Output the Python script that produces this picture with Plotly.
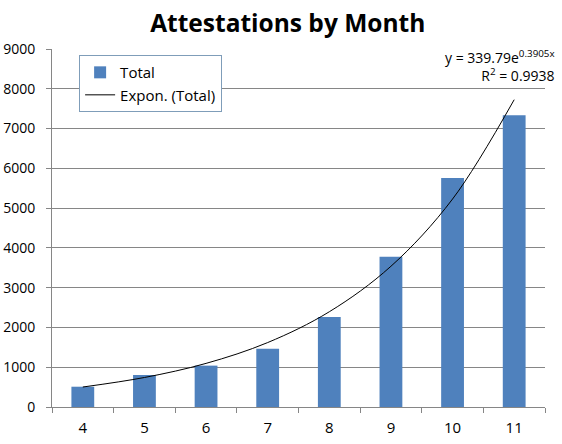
import plotly.graph_objects as go

# Monthly attestation counts
MONTHS = ['4', '5', '6', '7', '8', '9', '10', '11']
TOTALS = [510, 805, 1040, 1465, 2260, 3775, 5755, 7335]

# Exponential trendline as reported on the chart: y = a * e^(b * n), n = 1..N
TREND_A = 339.79
TREND_B = 0.3905
TREND_R2 = 0.9938

BAR_COLOR = '#4F81BD'
AXIS_COLOR = '#868686'
FONT = 'Open Sans'

trend_x = list(range(1, len(MONTHS) + 1))
trend_y = [TREND_A * 2.718281828459045 ** (TREND_B * n) for n in trend_x]

fig = go.Figure()
fig.add_trace(go.Bar(
    x=MONTHS,
    y=TOTALS,
    name='Total',
    marker=dict(color=BAR_COLOR, line=dict(width=0)),
    width=0.37,
))
fig.add_trace(go.Scatter(
    x=MONTHS,
    y=trend_y,
    mode='lines',
    name='Expon. (Total)',
    line=dict(color='black', width=1, shape='spline'),
))

fig.add_annotation(
    xref='paper', yref='paper',
    x=1.024, y=1.012,
    xanchor='right', yanchor='top',
    align='right',
    showarrow=False,
    text=f'y = {TREND_A}e<sup>{TREND_B}x</sup><br>R<sup>2</sup> = {TREND_R2}',
    font=dict(family=FONT, size=14, color='black'),
)

fig.update_layout(
    width=562, height=444,
    margin=dict(l=52, r=17, t=49, b=37),
    paper_bgcolor='white',
    plot_bgcolor='white',
    font=dict(family=FONT, size=14, color='black'),
    title=dict(
        text='<b>Attestations by Month</b>',
        x=0.512, xanchor='center',
        y=0.948, yanchor='middle',
        font=dict(family=FONT, size=24.5, color='black'),
    ),
    showlegend=True,
    legend=dict(
        x=0.055, y=0.983,
        xanchor='left', yanchor='top',
        bgcolor='white',
        bordercolor='#7F9DB9',
        borderwidth=1,
        font=dict(family=FONT, size=15, color='black'),
        tracegroupgap=10,
    ),
)

fig.update_xaxes(
    type='category',
    automargin=False,
    showline=True, linecolor=AXIS_COLOR, linewidth=1,
    ticks='outside', tickson='boundaries', ticklen=5, tickcolor=AXIS_COLOR,
    showgrid=False,
    tickfont=dict(family=FONT, size=15),
    ticklabelstandoff=7,
)
fig.update_yaxes(
    range=[0, 9000],
    dtick=1000,
    automargin=False,
    showline=True, linecolor=AXIS_COLOR, linewidth=1,
    ticks='outside', ticklen=5, tickcolor=AXIS_COLOR,
    showgrid=True, gridcolor=AXIS_COLOR, gridwidth=1,
    zeroline=False,
    tickfont=dict(family=FONT, size=14),
    ticklabelstandoff=8,
)

# the page body has a default 8px margin; drop it so the 562x444 figure fits the window
fig.write_html(
    'out.html',
    config={'displayModeBar': False},
    post_script="document.body.style.margin = '0';",
)
